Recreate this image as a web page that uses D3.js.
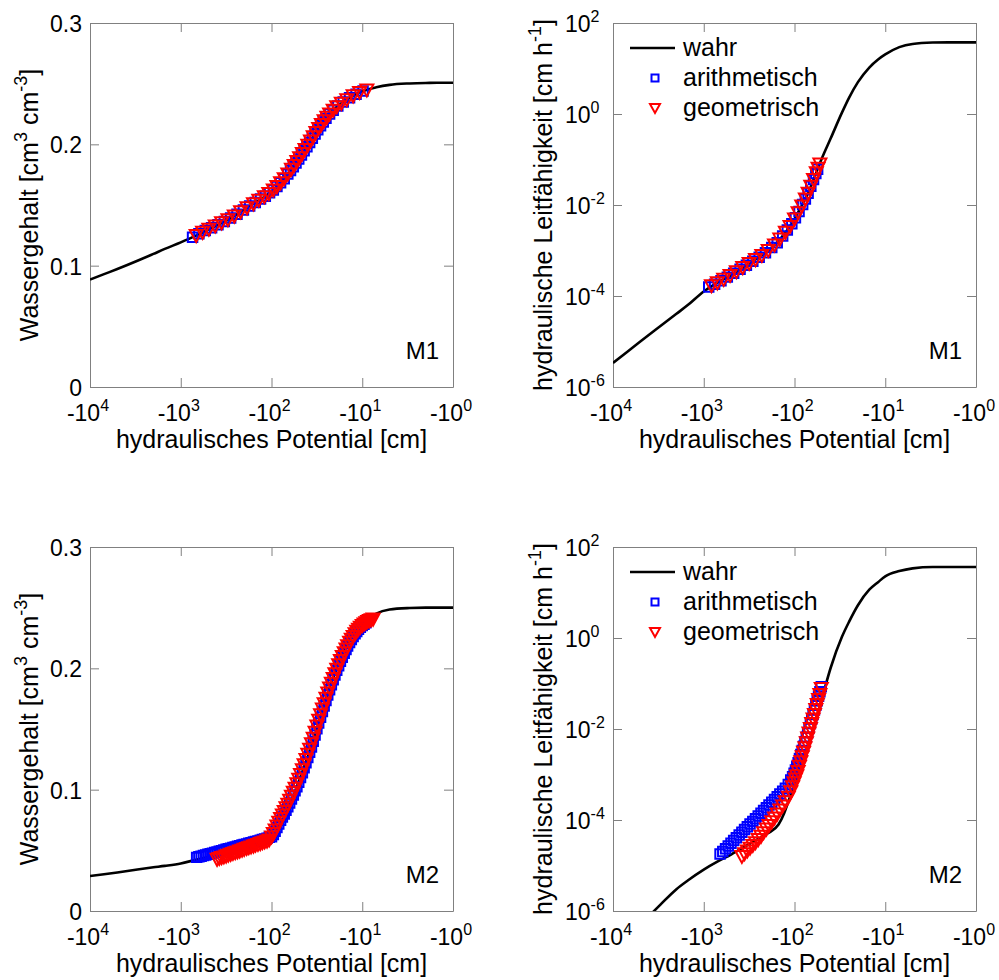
<!DOCTYPE html>
<html>
<head>
<meta charset="utf-8">
<script src="https://cdn.jsdelivr.net/npm/d3@7"></script>
<style>
  body { margin: 0; background: #fff; }
  svg text { font-family: "Liberation Sans", Arial, sans-serif; }
</style>
</head>
<body>
<svg id="chart" width="999" height="980"></svg>
<script>
// ------------------------------------------------------------- data
// "wahr" curves, sampled along the hydraulic potential [cm]
const potential = [-10000, -7000, -5000, -3000, -2000, -1500, -1000, -700, -500, -300, -200, -150, -130, -120,
  -100, -85, -70, -60, -50, -40, -30, -25, -20, -15, -12, -10, -7, -5, -3, -2, -1.5, -1];

const m1ThetaTrue = [0.0885, 0.0930, 0.0972, 0.1040, 0.1097, 0.1138, 0.1192, 0.1243, 0.1297, 0.1380, 0.1462,
  0.1522, 0.1551, 0.1568, 0.1610, 0.1660, 0.1730, 0.1797, 0.1880, 0.1990, 0.2135, 0.2215, 0.2295, 0.2365,
  0.2410, 0.2437, 0.2470, 0.2490, 0.2502, 0.2506, 0.2507, 0.2508];
const m2ThetaTrue = [0.0288, 0.0303, 0.0318, 0.0342, 0.0360, 0.0372, 0.0392, 0.0420, 0.0445, 0.0480, 0.0512,
  0.0538, 0.0552, 0.0562, 0.0595, 0.0670, 0.0800, 0.0915, 0.1070, 0.1270, 0.1560, 0.1755, 0.1960, 0.2190,
  0.2300, 0.2355, 0.2450, 0.2485, 0.2497, 0.2500, 0.2500, 0.2500];
const m1CondTrue = [3.39e-6, 5.89e-6, 1.0e-5, 2.19e-5, 4.07e-5, 6.31e-5, 1.26e-4, 2.0e-4, 2.88e-4, 5.56e-4,
  9.55e-4, 1.62e-3, 2.29e-3, 2.82e-3, 4.90e-3, 8.91e-3, 1.91e-2, 4.17e-2, 0.105, 0.288, 1.07, 2.29, 5.01,
  10.5, 15.8, 20.4, 29.5, 34.7, 37.2, 37.6, 37.6, 37.6];
const m2CondTrue = [1.12e-7, 2.40e-7, 4.90e-7, 1.38e-6, 3.02e-6, 4.68e-6, 8.13e-6, 1.23e-5, 1.74e-5, 3.16e-5,
  5.01e-5, 7.94e-5, 1.41e-4, 2.19e-4, 6.46e-4, 1.70e-3, 4.79e-3, 1.26e-2, 4.57e-2, 0.219, 1.06, 2.29, 5.25,
  11.5, 16.9, 22.6, 29.5, 33.9, 36.3, 36.3, 36.3, 36.3];

// M1, Wassergehalt
const m1ThetaArithPot = [-741, -631, -537, -457, -389, -331, -282, -240, -204, -174, -151, -132, -117, -105,
  -95.5, -87.1, -79.4, -72.4, -66.1, -61.7, -57.5, -53.7, -50.1, -46.8, -43.7, -40.7, -38.0, -35.5, -33.1,
  -30.9, -28.8, -26.9, -25.1, -22.9, -20.9, -18.6, -16.2, -13.8, -11.7, -9.8];
const m1ThetaArith = [0.1235, 0.1263, 0.1289, 0.1312, 0.1338, 0.1364, 0.1392, 0.1424, 0.1458, 0.1491, 0.1520,
  0.1549, 0.1573, 0.1600, 0.1624, 0.1652, 0.1683, 0.1717, 0.1755, 0.1785, 0.1816, 0.1847, 0.1879, 0.1913,
  0.1947, 0.1981, 0.2015, 0.2050, 0.2085, 0.2120, 0.2153, 0.2184, 0.2214, 0.2250, 0.2281, 0.2316, 0.2348,
  0.2383, 0.2413, 0.2439];
const m1ThetaGeoPot = [-676, -575, -490, -417, -355, -302, -257, -219, -186, -158, -138, -120, -107, -95.5,
  -87.1, -79.4, -72.4, -66.1, -60.3, -56.2, -52.5, -49.0, -45.7, -42.7, -39.8, -37.2, -34.7, -32.4, -30.2,
  -28.2, -26.3, -24.5, -22.9, -20.9, -19.1, -17.0, -14.8, -12.6, -10.7, -8.9];
const m1ThetaGeo = [0.1248, 0.1275, 0.1300, 0.1327, 0.1353, 0.1379, 0.1409, 0.1444, 0.1477, 0.1510, 0.1539,
  0.1568, 0.1594, 0.1624, 0.1652, 0.1683, 0.1717, 0.1755, 0.1795, 0.1826, 0.1858, 0.1890, 0.1924, 0.1958,
  0.1992, 0.2027, 0.2062, 0.2097, 0.2131, 0.2163, 0.2194, 0.2223, 0.2250, 0.2281, 0.2310, 0.2338, 0.2368,
  0.2400, 0.2428, 0.2448];

// M1, Leitfaehigkeit
const m1CondArithPot = [-881, -759, -646, -550, -468, -398, -339, -288, -245, -209, -178, -155, -135, -120,
  -107, -97.7, -89.1, -81.3, -75.9, -70.8, -66.1, -61.7, -58.2, -55.6];
const m1CondArith = [1.57e-4, 1.82e-4, 2.16e-4, 2.60e-4, 3.16e-4, 3.85e-4, 4.73e-4, 5.82e-4, 7.08e-4, 8.91e-4,
  1.16e-3, 1.48e-3, 2.09e-3, 2.82e-3, 3.89e-3, 5.25e-3, 7.24e-3, 1.02e-2, 1.35e-2, 1.82e-2, 2.57e-2, 3.63e-2,
  4.90e-2, 6.10e-2];
const m1CondGeoPot = [-822, -708, -603, -513, -437, -372, -316, -269, -229, -195, -166, -145, -126, -112, -100,
  -91.2, -83.2, -75.9, -70.8, -66.1, -61.7, -57.5, -55.0, -52.5];
const m1CondGeo = [1.68e-4, 1.95e-4, 2.32e-4, 2.82e-4, 3.43e-4, 4.22e-4, 5.19e-4, 6.31e-4, 7.76e-4, 1.0e-3,
  1.32e-3, 1.78e-3, 2.51e-3, 3.39e-3, 4.90e-3, 6.76e-3, 9.55e-3, 1.35e-2, 1.82e-2, 2.57e-2, 3.63e-2, 5.13e-2,
  6.46e-2, 7.94e-2];

// M2, Wassergehalt (shared potentials, null = no marker)
const m2ThetaPot = [-668, -631, -596, -562, -531, -501, -473, -447, -422, -398, -376, -355, -335, -316, -299,
  -282, -266, -251, -237, -224, -211, -200, -188, -178, -168, -158, -150, -141, -133, -126, -119, -112, -106,
  -100, -95.5, -91.2, -87.1, -83.2, -79.4, -75.9, -72.4, -69.2, -66.1, -63.1, -60.3, -57.5, -55.0, -52.5,
  -50.1, -47.9, -45.7, -43.7, -41.7, -39.8, -38.0, -36.3, -34.7, -33.1, -31.6, -30.2, -28.8, -27.5, -26.3,
  -25.1, -24.0, -22.9, -21.9, -20.9, -20.0, -19.1, -18.2, -17.4, -16.6, -15.8, -15.1, -14.5, -13.8, -13.2,
  -12.6, -12.0, -11.5, -11.0, -10.5, -10.0, -9.55, -9.12, -8.71, -8.32, -7.94, -7.59];
const m2ThetaArith = [0.0442, 0.0447, 0.0452, 0.0457, 0.0462, 0.0467, 0.0472, 0.0477, 0.0482, 0.0487, 0.0492,
  0.0497, 0.0503, 0.0508, 0.0513, 0.0518, 0.0523, 0.0528, 0.0533, 0.0538, 0.0543, 0.0548, 0.0553, 0.0558,
  0.0563, 0.0568, 0.0573, 0.0578, 0.0584, 0.0589, 0.0594, 0.0600, 0.0608,
  0.0612, 0.0630, 0.0658, 0.0688, 0.0718, 0.0748, 0.0775, 0.0800, 0.0830, 0.0860, 0.0890, 0.0922, 0.0955,
  0.0990, 0.1025, 0.1062, 0.1100, 0.1140, 0.1180, 0.1222, 0.1265, 0.1308, 0.1352, 0.1398, 0.1450, 0.1502,
  0.1550, 0.1597, 0.1644, 0.1690, 0.1735, 0.1780, 0.1823, 0.1865, 0.1905, 0.1945, 0.1985, 0.2022, 0.2058,
  0.2092, 0.2125, 0.2156, 0.2185, 0.2212, 0.2238, 0.2262, 0.2284, 0.2304, 0.2322, 0.2338, 0.2352, 0.2364,
  0.2375, null, null, null, null];
const m2ThetaGeo = [null, null, null, null, null, null, null, null, null,
  0.0426, 0.0433, 0.0440, 0.0446, 0.0453, 0.0460, 0.0467, 0.0474, 0.0481, 0.0487, 0.0494, 0.0501, 0.0508,
  0.0515, 0.0522, 0.0528, 0.0535, 0.0542, 0.0549, 0.0556, 0.0563, 0.0569, 0.0576, 0.0586,
  0.0610, 0.0638, 0.0668, 0.0700, 0.0732, 0.0763, 0.0792, 0.0820, 0.0850, 0.0880, 0.0912, 0.0945, 0.0978,
  0.1012, 0.1048, 0.1085, 0.1124, 0.1164, 0.1205, 0.1248, 0.1291, 0.1334, 0.1378, 0.1424, 0.1474, 0.1524,
  0.1572, 0.1618, 0.1664, 0.1709, 0.1753, 0.1796, 0.1838, 0.1878, 0.1917, 0.1955, 0.1993, 0.2029, 0.2064,
  0.2097, 0.2129, 0.2159, 0.2187, 0.2214, 0.2239, 0.2263, 0.2285, 0.2305, 0.2323, 0.2339, 0.2353, 0.2365,
  0.2376, 0.2386, 0.2394, 0.2401, 0.2406];

// M2, Leitfaehigkeit (shared potentials, null = no marker)
const m2CondPot = [-661, -617, -575, -537, -501, -468, -437, -407, -380, -355, -331, -309, -288, -269, -251,
  -234, -219, -204, -191, -178, -166, -155, -145, -135, -126, -117, -110, -105, -101, -97.7, -94.4, -91.2,
  -88.1, -85.1, -82.2, -79.4, -76.7, -74.1, -71.6, -69.2, -66.8, -64.6, -62.4, -60.3, -58.2, -56.2, -54.3,
  -52.5, -50.7];
const m2CondArith = [1.78e-5, 2.04e-5, 2.34e-5, 2.69e-5, 3.09e-5, 3.55e-5, 4.07e-5, 4.68e-5, 5.37e-5, 6.17e-5,
  7.08e-5, 8.13e-5, 9.33e-5, 1.07e-4, 1.23e-4, 1.41e-4, 1.62e-4, 1.86e-4, 2.14e-4, 2.45e-4, 2.82e-4, 3.24e-4,
  3.72e-4, 4.27e-4, 5.01e-4, 6.03e-4, 7.59e-4, 8.91e-4, 1.07e-3, 1.26e-3, 1.51e-3, 1.82e-3, 2.24e-3, 2.75e-3,
  3.39e-3, 4.17e-3, 5.25e-3, 6.61e-3, 8.32e-3, 1.05e-2, 1.32e-2, 1.66e-2, 2.09e-2, 2.63e-2, 3.31e-2, 4.17e-2,
  5.25e-2, 6.61e-2, 8.51e-2];
const m2CondGeo = [null, null, null, null, null, null, null, null,
  1.58e-5, 1.82e-5, 2.09e-5, 2.40e-5, 2.75e-5, 3.16e-5, 3.72e-5, 4.37e-5, 5.25e-5, 6.31e-5, 7.59e-5, 9.12e-5,
  1.10e-4, 1.35e-4, 1.66e-4, 2.04e-4, 2.51e-4, 3.16e-4, 4.17e-4, 5.37e-4, 6.61e-4, 7.94e-4, 9.33e-4, 1.17e-3,
  1.51e-3, 1.91e-3, 2.45e-3, 3.09e-3, 3.89e-3, 5.01e-3, 6.31e-3, 8.13e-3, 1.02e-2, 1.32e-2, 1.66e-2, 2.09e-2,
  2.69e-2, 3.47e-2, 4.47e-2, 5.75e-2, 7.76e-2];

// ticks and texts
const potTicks = [-10000, -1000, -100, -10, -1];
const potTickSup = ["4", "3", "2", "1", "0"];
const thetaTicks = [0, 0.1, 0.2, 0.3];
const thetaTickLabels = ["0", "0.1", "0.2", "0.3"];
const condTicks = [1e-6, 1e-4, 1e-2, 1, 100];
const condTickSup = ["-6", "-4", "-2", "0", "2"];

const xTitle = "hydraulisches Potential [cm]";
const thetaTitle = [["Wassergehalt [cm", 0], ["3", 1], [" cm", 0], ["-3", 1], ["]", 0]];
const condTitle = [["hydraulische Leitfähigkeit [cm h", 0], ["-1", 1], ["]", 0]];
const legendNames = ["wahr", "arithmetisch", "geometrisch"];

// ------------------------------------------------------------- setup
const W = 363, H = 364;
const AXIS_GRAY = '#808080';
const BLUE = '#0000ff', RED = '#ff0000';

const svg = d3.select('#chart');
svg.append('rect').attr('width', 999).attr('height', 980).attr('fill', '#fff');

const panels = [
  { left: 90,  top: 23,  kind: 'theta', tag: 'M1', curve: m1ThetaTrue,
    arith: [m1ThetaArithPot, m1ThetaArith], geo: [m1ThetaGeoPot, m1ThetaGeo] },
  { left: 613, top: 23,  kind: 'cond',  tag: 'M1', curve: m1CondTrue,
    arith: [m1CondArithPot, m1CondArith], geo: [m1CondGeoPot, m1CondGeo] },
  { left: 90,  top: 547, kind: 'theta', tag: 'M2', curve: m2ThetaTrue,
    arith: [m2ThetaPot, m2ThetaArith], geo: [m2ThetaPot, m2ThetaGeo] },
  { left: 613, top: 547, kind: 'cond',  tag: 'M2', curve: m2CondTrue,
    arith: [m2CondPot, m2CondArith], geo: [m2CondPot, m2CondGeo] }
];

const squarePath = d3.symbol(d3.symbolSquare, 90)();
const trianglePath = 'M-6.5,-5.5L6.5,-5.5L0,6.5Z';

panels.forEach(drawPanel);

// ------------------------------------------------------------- helpers
// text with optional superscripts
function label(g, x, y, parts, size, anchor, rotate) {
  const supSize = Math.round(size * 0.7);
  const shift = Math.round(size * 0.45);
  const t = g.append('text')
    .attr('transform', `translate(${x},${y})` + (rotate ? ' rotate(-90)' : ''))
    .attr('text-anchor', anchor)
    .attr('fill', '#000')
    .style('font-size', size + 'px');
  let up = false;
  parts.forEach(([s, sup]) => {
    const ts = t.append('tspan').text(s);
    if (sup) {
      ts.style('font-size', supSize + 'px');
      if (!up) { ts.attr('dy', -shift); up = true; }
    } else if (up) {
      ts.attr('dy', shift); up = false;
    }
  });
  return t;
}

function pairs(pot, vals) {
  return pot.map((h, i) => ({ h: h, v: vals[i] })).filter(d => d.v != null);
}

// -------------------------------------------------------------
function drawPanel(p, i) {
  const g = svg.append('g').attr('transform', `translate(${p.left},${p.top})`);

  const x = d3.scaleLog().domain([1e4, 1]).range([0, W]);
  const y = p.kind === 'cond'
    ? d3.scaleLog().domain([1e-6, 1e2]).range([H, 0])
    : d3.scaleLinear().domain([0, 0.3]).range([H, 0]);
  const yTicks = p.kind === 'cond' ? condTicks : thetaTicks;
  const xTickVals = potTicks.map(v => -v);

  // axes box with inward ticks on all sides
  const axes = [
    [d3.axisBottom(x).tickValues(xTickVals), `translate(0,${H})`],
    [d3.axisTop(x).tickValues(xTickVals), 'translate(0,0)'],
    [d3.axisLeft(y).tickValues(yTicks), 'translate(0,0)'],
    [d3.axisRight(y).tickValues(yTicks), `translate(${W},0)`]
  ];
  axes.forEach(([ax, tr]) => {
    const a = g.append('g').attr('transform', tr)
      .call(ax.tickSize(-9).tickSizeOuter(0).tickFormat(''));
    a.selectAll('path, line').attr('stroke', AXIS_GRAY).attr('stroke-width', 1);
  });

  // tick labels
  potTicks.forEach((v, k) => {
    label(g, x(-v) - 2, H + 34, [['-10', 0], [potTickSup[k], 1]], 23, 'middle');
  });
  if (p.kind === 'cond') {
    condTicks.forEach((v, k) => {
      label(g, -48, y(v) + 9, [['10', 0], [condTickSup[k], 1]], 23, 'start');
    });
  } else {
    thetaTicks.forEach((v, k) => {
      label(g, -8, y(v) + 9, [[thetaTickLabels[k], 0]], 23, 'end');
    });
  }

  // titles
  label(g, W / 2, H + 61, [[xTitle, 0]], 25, 'middle');
  if (p.kind === 'cond') label(g, -61, H / 2, condTitle, 25, 'middle', true);
  else label(g, -52, H / 2, thetaTitle, 25, 'middle', true);

  // clip
  const clipId = 'clip' + i;
  g.append('clipPath').attr('id', clipId)
    .append('rect').attr('width', W).attr('height', H);

  // true curve
  const line = d3.line()
    .x(d => x(-d.h))
    .y(d => y(d.v))
    .curve(d3.curveMonotoneX);
  g.append('path')
    .datum(pairs(potential, p.curve))
    .attr('clip-path', `url(#${clipId})`)
    .attr('d', line)
    .attr('fill', 'none')
    .attr('stroke', '#000')
    .attr('stroke-width', 2.6);

  // markers
  const marks = g.append('g').attr('clip-path', `url(#${clipId})`);
  marks.selectAll('.arith')
    .data(pairs(p.arith[0], p.arith[1]))
    .enter().append('path')
    .attr('class', 'arith')
    .attr('transform', d => `translate(${x(-d.h)},${y(d.v)})`)
    .attr('d', squarePath)
    .attr('fill', 'none')
    .attr('stroke', BLUE)
    .attr('stroke-width', 2);
  marks.selectAll('.geo')
    .data(pairs(p.geo[0], p.geo[1]))
    .enter().append('path')
    .attr('class', 'geo')
    .attr('transform', d => `translate(${x(-d.h)},${y(d.v)})`)
    .attr('d', trianglePath)
    .attr('fill', 'none')
    .attr('stroke', RED)
    .attr('stroke-width', 2);

  // panel tag
  label(g, W - 14, H - 28, [[p.tag, 0]], 24, 'end');

  // legend
  if (p.kind === 'cond') {
    const rows = [25, 55, 85];
    g.append('line')
      .attr('x1', 17).attr('x2', 62).attr('y1', rows[0]).attr('y2', rows[0])
      .attr('stroke', '#000').attr('stroke-width', 2.6);
    g.append('path').attr('transform', `translate(42,${rows[1]})`)
      .attr('d', d3.symbol(d3.symbolSquare, 49)())
      .attr('fill', 'none').attr('stroke', BLUE).attr('stroke-width', 2);
    g.append('path').attr('transform', `translate(42,${rows[2]})`)
      .attr('d', 'M-5,-4L5,-4L0,5Z')
      .attr('fill', 'none').attr('stroke', RED).attr('stroke-width', 2);
    legendNames.forEach((name, k) => {
      label(g, 70, rows[k] + 8, [[name, 0]], 25, 'start');
    });
  }
}
</script>
</body>
</html>
